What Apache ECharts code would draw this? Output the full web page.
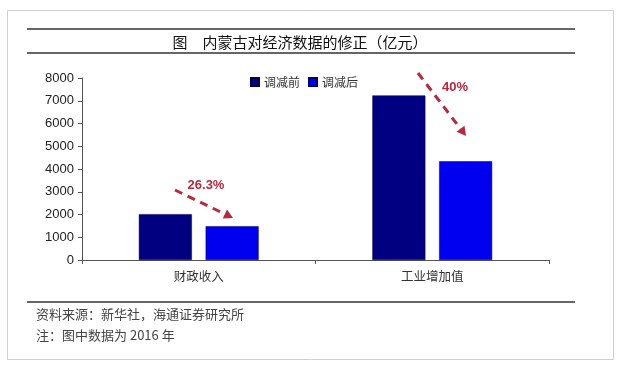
<!DOCTYPE html>
<html>
<head>
<meta charset="utf-8">
<script src="https://cdn.jsdelivr.net/npm/echarts@6/dist/echarts.min.js"></script>
<style>
html,body{margin:0;padding:0;background:#fff;}
#main{width:624px;height:369px;}
</style>
</head>
<body>
<div id="main"></div>
<script>
const categories = ['财政收入', '工业增加值'];
const seriesNames = ['调减前', '调减后'];
const before = [2016, 7233];
const after = [1486, 4340];
const yTicks = [0, 1000, 2000, 3000, 4000, 5000, 6000, 7000, 8000];
const changeLabels = ['26.3%', '40%'];
const titleText = '图　内蒙古对经济数据的修正（亿元）';
const sourceText = '资料来源：新华社，海通证券研究所';
const noteText = '注：图中数据为 2016 年';

const CJK = '"Noto Sans CJK SC", sans-serif';
const red = '#B8283F';

function arrow(x1, y1, x2, y2) {
  const ang = Math.atan2(y2 - y1, x2 - x1);
  const L = 9, W = 5;
  const bx = x2 - L * Math.cos(ang), by = y2 - L * Math.sin(ang);
  const px = -Math.sin(ang) * W, py = Math.cos(ang) * W;
  return [
    { type: 'line', shape: { x1: x1, y1: y1, x2: bx, y2: by },
      style: { stroke: red, lineWidth: 3, lineDash: [8, 6] } },
    { type: 'polygon', shape: { points: [[x2, y2], [bx + px, by + py], [bx - px, by - py]] },
      style: { fill: red } }
  ];
}

const chart = echarts.init(document.getElementById('main'));
const option = {
  animation: false,
  backgroundColor: '#fff',
  grid: { left: 82, right: 75, top: 78, bottom: 109 },
  legend: {
    data: seriesNames,
    left: 250, top: 76,
    itemWidth: 8, itemHeight: 8, itemGap: 8,
    icon: 'rect',
    textStyle: { fontFamily: CJK, fontSize: 12, color: '#333' },
    padding: 0
  },
  xAxis: {
    type: 'category',
    data: categories,
    axisLine: { lineStyle: { color: '#555', width: 1 } },
    axisTick: { show: true, alignWithLabel: false, length: 4, lineStyle: { color: '#555' } },
    axisLabel: { fontFamily: CJK, fontSize: 12.5, color: '#333', margin: 10 }
  },
  yAxis: {
    type: 'value',
    min: yTicks[0], max: yTicks[yTicks.length - 1], interval: 1000,
    axisLine: { show: true, lineStyle: { color: '#555', width: 1 } },
    axisTick: { show: true, length: 4, lineStyle: { color: '#555' } },
    splitLine: { show: false },
    axisLabel: { fontFamily: 'Arial, "Liberation Sans", sans-serif', fontSize: 13, color: '#222', margin: 8,
      formatter: function (v) { return String(v); } }
  },
  series: [
    { name: seriesNames[0], type: 'bar', data: before, barWidth: 53, barGap: '26%',
      itemStyle: { color: '#000080', borderColor: '#000040', borderWidth: 0.5 } },
    { name: seriesNames[1], type: 'bar', data: after, barWidth: 53,
      itemStyle: { color: '#0000F0', borderColor: '#000060', borderWidth: 0.5 } }
  ],
  graphic: [
    { type: 'rect', shape: { x: 7.5, y: 10.5, width: 606, height: 349 },
      style: { fill: 'none', stroke: '#d0d0d0', lineWidth: 1 }, z: -1 },
    { type: 'line', shape: { x1: 27, y1: 29, x2: 575, y2: 29 }, style: { stroke: '#666', lineWidth: 2 } },
    { type: 'line', shape: { x1: 27, y1: 53, x2: 575, y2: 53 }, style: { stroke: '#666', lineWidth: 2 } },
    { type: 'text', x: 300, y: 42, style: { text: titleText, font: '15px ' + CJK, fill: '#111', textAlign: 'center', textVerticalAlign: 'middle' } },
    { type: 'line', shape: { x1: 27, y1: 302, x2: 575, y2: 302 }, style: { stroke: '#666', lineWidth: 2 } },
    { type: 'text', x: 36, y: 314, style: { text: sourceText, font: '13px ' + CJK, fill: '#444', textVerticalAlign: 'middle' } },
    { type: 'text', x: 36, y: 335, style: { text: noteText, font: '13px ' + CJK, fill: '#444', textVerticalAlign: 'middle' } },
    ...arrow(175, 190, 233, 218),
    ...arrow(418, 73, 466, 136),
    { type: 'text', x: 206, y: 185, style: { text: changeLabels[0], font: 'bold 13px Arial, "Liberation Sans", sans-serif', fill: red, textAlign: 'center', textVerticalAlign: 'middle' } },
    { type: 'text', x: 455, y: 87, style: { text: changeLabels[1], font: 'bold 13px Arial, "Liberation Sans", sans-serif', fill: red, textAlign: 'center', textVerticalAlign: 'middle' } }
  ]
};
chart.setOption(option);
</script>
</body>
</html>
